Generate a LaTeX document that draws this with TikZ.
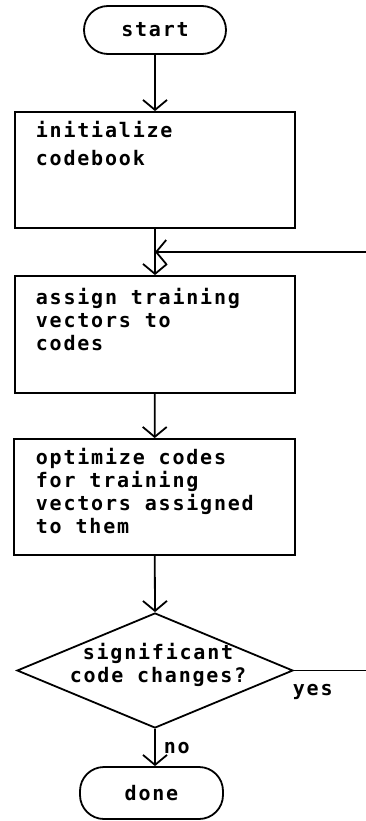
\documentclass[tikz,border=0pt]{standalone}
\usepackage{fontspec}
\newfontfamily\plotfont[LetterSpace=9]{DejaVu Sans Mono Bold}
\usetikzlibrary{arrows.meta,shapes.geometric}
\tikzset{
  every picture/.style={line width=1.8pt},
  terminal/.style={draw, rectangle, rounded corners=24pt, inner sep=0pt, font=\plotfont\fontsize{20}{23}\selectfont},
  procbox/.style={draw, rectangle, inner sep=0pt},
  decision/.style={draw, diamond, inner sep=0pt},
  txt/.style={inner sep=0pt, align=left, anchor=north west, font=\plotfont\fontsize{20}{23}\selectfont},
  lbl/.style={inner sep=0pt, font=\plotfont\fontsize{20}{23}\selectfont},
  flow/.style={-{Straight Barb[length=10pt,width=24pt,line width=1.8pt]}},
}
\begin{document}
\begin{tikzpicture}[x=1pt,y=-1pt]
\useasboundingbox (0,0) rectangle (366,821);
\node[terminal, minimum width=142pt, minimum height=48pt] (start) at (155,30) {start};
\node[procbox, minimum width=280pt, minimum height=116pt] (init) at (155,170) {};
\node[procbox, minimum width=280pt, minimum height=117pt] (assign) at (155,334.5) {};
\node[procbox, minimum width=281pt, minimum height=116pt] (opt) at (154.5,497) {};
\node[decision, minimum width=276pt, minimum height=115pt] (dec) at (155,670.5) {};
\node[terminal, minimum width=143pt, minimum height=52pt] (done) at (151.5,793) {done};

\node[txt, font=\plotfont\fontsize{20}{28}\selectfont] (t1) at (35,120) {initialize\\codebook};
\node[txt] (t2) at (35,287) {assign training\\vectors to\\codes};
\node[txt] (t3) at (35,447) {optimize codes\\for training\\vectors assigned\\to them};
\node[inner sep=0pt, align=center, font=\plotfont\fontsize{20}{23}\selectfont] (t4) at (158,665) {significant\\code changes?};
\node[lbl, anchor=base west] (yes) at (292,695) {yes};
\node[lbl, anchor=base west] (no) at (163,753) {no};

\coordinate (decout) at (366,670.5);
\coordinate (loopin) at (366,252);
\coordinate (join) at (155,252);

\draw[flow] (start) -- (init);
\draw (init) -- (join);
\draw[flow] (join) -- (assign);
\draw[flow] (loopin) -- (join);
\draw (dec.east) -- (decout);
\draw[flow] (assign) -- (opt);
\draw[flow] (opt) -- (dec.north);
\draw[flow] (dec.south) -- (dec.south |- done.north);
\end{tikzpicture}
\end{document}
